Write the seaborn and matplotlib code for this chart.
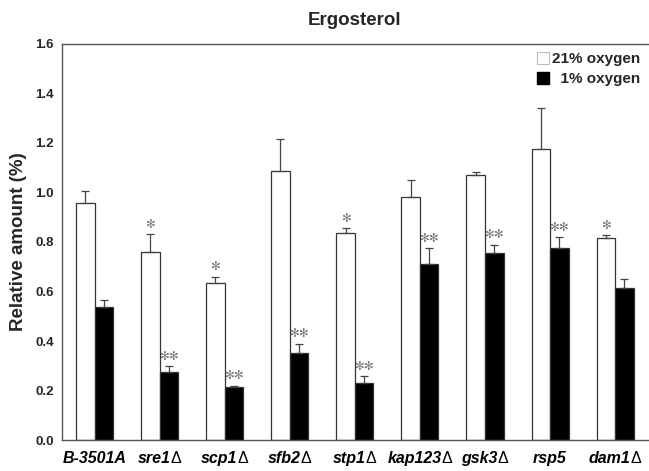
import matplotlib
matplotlib.use("Agg")
import matplotlib.pyplot as plt
import seaborn as sns
import pandas as pd
import numpy as np
from matplotlib.patches import Patch
from matplotlib.offsetbox import TextArea, HPacker, AnnotationBbox

strains = ["B-3501A", "sre1Δ", "scp1Δ", "sfb2Δ", "stp1Δ", "kap123Δ", "gsk3Δ", "rsp5", "dam1Δ"]
normoxia = [0.958, 0.760, 0.634, 1.088, 0.836, 0.983, 1.070, 1.177, 0.816]
normoxia_err = [0.048, 0.072, 0.026, 0.127, 0.021, 0.069, 0.014, 0.166, 0.011]
hypoxia = [0.539, 0.276, 0.213, 0.353, 0.232, 0.711, 0.754, 0.776, 0.615]
hypoxia_err = [0.025, 0.022, 0.006, 0.036, 0.027, 0.064, 0.035, 0.043, 0.037]
sig_normoxia = ["", "✻", "✻", "", "✻", "", "", "", "✻"]
sig_hypoxia = ["", "✻✻", "✻✻", "✻✻", "✻✻", "✻✻", "✻✻", "✻✻", ""]
conditions = ["21% oxygen", "1% oxygen"]

df = pd.DataFrame({
    "strain": strains * 2,
    "condition": [conditions[0]] * len(strains) + [conditions[1]] * len(strains),
    "value": normoxia + hypoxia,
})

sns.set_style("white")
plt.rcParams["font.family"] = ["Liberation Sans", "DejaVu Sans"]

fig = plt.figure(figsize=(6.49, 4.71), dpi=100)
ax = fig.add_axes([0.0955, 0.0658, 0.9025, 0.8408])

sns.barplot(data=df, x="strain", y="value", hue="condition", order=strains,
            hue_order=conditions, palette=["white", "black"], width=0.57,
            edgecolor="#333333", linewidth=0.9, errorbar=None, ax=ax, legend=False)

edge = "#444444"
for i, (cond, vals, errs, sig) in enumerate([(conditions[0], normoxia, normoxia_err, sig_normoxia),
                                             (conditions[1], hypoxia, hypoxia_err, sig_hypoxia)]):
    offset = (-0.5 + i) * 0.285
    xs = np.arange(len(strains)) + offset
    ax.errorbar(xs, vals, yerr=[np.zeros(len(errs)), errs], fmt="none",
                ecolor=edge, elinewidth=0.9, capsize=3, capthick=0.9)
    for x, v, e, s in zip(xs, vals, errs, sig):
        if s:
            ax.text(x, v + e + 0.014, s, ha="center", va="bottom", fontsize=8.5,
                    color="#777777", family=["DejaVu Sans"])

ax.set_ylim(0, 1.6)
ax.set_xlim(-0.5, len(strains) - 0.5)
ax.set_yticks(np.arange(0, 1.61, 0.2))
ax.set_yticklabels([f"{t:.1f}" for t in np.arange(0, 1.61, 0.2)], fontsize=9.5, fontweight="bold")
ax.set_xticks(np.arange(len(strains)))
ax.set_xticklabels([""] * len(strains))
ax.set_xticks(np.arange(len(strains) + 1) - 0.5, minor=True)
ax.tick_params(axis="x", which="major", length=0, pad=8)
ax.tick_params(axis="x", which="minor", length=5, width=1, color="#555555", direction="out")
ax.tick_params(axis="y", which="major", length=4, width=1, color="#555555", direction="out", pad=2)

# strain labels: italic name with upright delta
lab_it = dict(fontsize=11.5, fontweight="bold", style="italic", color="black")
lab_up = dict(fontsize=11.5, fontweight="normal", color="black")
for i, s in enumerate(strains):
    if s.endswith("Δ"):
        children = [TextArea(s[:-1], textprops=lab_it), TextArea("Δ", textprops=lab_up)]
    else:
        children = [TextArea(s, textprops=lab_it)]
    box = HPacker(children=children, sep=0, pad=0, align="baseline")
    ab = AnnotationBbox(box, (i, 0), xycoords=("data", "axes fraction"),
                        xybox=(0, -8), boxcoords="offset points",
                        box_alignment=(0.5, 1), frameon=False, pad=0)
    ax.add_artist(ab)

ax.set_xlabel("")
ax.set_ylabel("Relative amount (%)", fontsize=13.5, fontweight="bold", labelpad=6)
ax.set_title("Ergosterol", fontsize=13.5, fontweight="bold", pad=14)

for side in ["left", "bottom", "top"]:
    ax.spines[side].set_visible(True)
    ax.spines[side].set_color("#555555")
    ax.spines[side].set_linewidth(1.0)
ax.spines["right"].set_visible(False)

handles = [Patch(facecolor="white", edgecolor="#bbbbbb", linewidth=0.8),
           Patch(facecolor="black", edgecolor="black")]
labels = ["21% oxygen", "  1% oxygen"]
leg = ax.legend(handles, labels, loc="upper right", frameon=False,
                prop={"weight": "bold", "size": 11}, handlelength=0.8, handleheight=0.9,
                handletextpad=0.2, borderaxespad=0.1, labelspacing=0.35)

fig.savefig("out.png", dpi=100)
